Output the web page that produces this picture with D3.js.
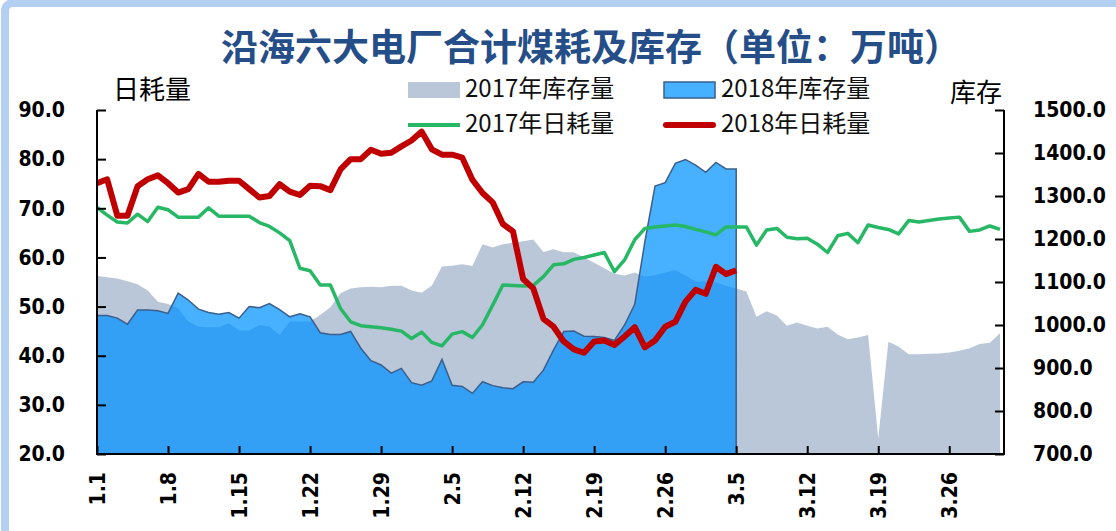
<!DOCTYPE html>
<html>
<head>
<meta charset="utf-8">
<script src="https://d3js.org/d3.v7.min.js"></script>
<style>
  body { margin: 0; background: #fff; }
  .tickLab { font-family: "DejaVu Sans Condensed", "DejaVu Sans", sans-serif; font-weight: bold; font-size: 21px; fill: #000; }
  .cjk { font-family: "Noto Sans CJK SC", sans-serif; }
</style>
</head>
<body>
<div id="chart"></div>
<script>
// categories (1.1 - 3.31)
var dates = ["1.1","1.2","1.3","1.4","1.5","1.6","1.7","1.8","1.9","1.10","1.11","1.12","1.13","1.14","1.15","1.16",
  "1.17","1.18","1.19","1.20","1.21","1.22","1.23","1.24","1.25","1.26","1.27","1.28","1.29","1.30","1.31",
  "2.1","2.2","2.3","2.4","2.5","2.6","2.7","2.8","2.9","2.10","2.11","2.12","2.13","2.14","2.15","2.16",
  "2.17","2.18","2.19","2.20","2.21","2.22","2.23","2.24","2.25","2.26","2.27","2.28",
  "3.1","3.2","3.3","3.4","3.5","3.6","3.7","3.8","3.9","3.10","3.11","3.12","3.13","3.14","3.15","3.16",
  "3.17","3.18","3.19","3.20","3.21","3.22","3.23","3.24","3.25","3.26","3.27","3.28","3.29","3.30","3.31"]
var tickLabels = ["1.1","1.8","1.15","1.22","1.29","2.5","2.12","2.19","2.26","3.5","3.12","3.19","3.26"]

// 2017 inventory (right axis)
var inv2017 = [1114,1111,1108,1102,1095,1080,1054,1049,1039,1008,996,995,995,1004,987,987,1000,996,977,1008,
  1008,1008,1023,1041,1074,1085,1088,1089,1088,1091,1091,1080,1075,1091,1136,1138,1141,1137,1188,1180,
  1188,1191,1195,1199,1170,1176,1169,1169,1157,1145,1132,1119,1115,1122,1112,1116,1122,1128,1115,1101,
  1101,1099,1091,1085,1078,1019,1032,1022,998,1006,998,992,996,978,967,971,977,736,961,950,
  932,932,933,934,936,940,946,956,959,981]
// 2018 inventory (right axis)
var inv2018 = [1022,1022,1016,1002,1035,1035,1033,1027,1074,1058,1037,1029,1025,1029,1016,1043,1040,1050,1036,1019,
  1026,1019,982,978,978,985,946,917,907,888,899,866,860,870,920,860,857,841,868,859,
  854,852,868,867,895,942,985,986,974,973,971,964,1000,1048,1194,1323,1331,1376,1385,1372,
  1355,1378,1363,1363]
// 2017 daily consumption (left axis)
var cons2017 = [70.2,68.6,67.2,67.0,68.8,67.3,70.2,69.7,68.2,68.2,68.2,70.1,68.4,68.4,68.4,68.4,67.1,66.3,65.0,63.4,
  57.8,57.3,54.4,54.4,49.6,46.9,46.1,45.9,45.7,45.4,45.0,43.5,44.8,42.7,42.0,44.4,44.9,43.7,46.3,50.3,
  54.4,54.3,54.2,54.3,56.1,58.5,58.7,59.6,60.0,60.5,61.0,57.1,59.5,63.6,65.9,66.2,66.4,66.6,66.3,65.7,
  65.2,64.6,66.2,66.2,66.2,62.5,65.6,65.9,64.1,63.8,63.9,62.7,61.0,64.4,64.9,63.0,66.6,66.1,65.7,64.8,
  67.5,67.2,67.5,67.8,68.0,68.2,65.3,65.6,66.4,65.7]
// 2018 daily consumption (left axis)
var cons2018 = [75.1,75.9,68.5,68.5,74.5,75.9,76.7,75.1,73.2,73.9,77.0,75.4,75.4,75.6,75.6,73.9,72.2,72.5,74.9,73.4,
  72.7,74.6,74.5,73.7,77.9,80.0,80.0,81.9,81.1,81.3,82.6,83.8,85.6,82.0,80.9,80.9,80.3,75.8,73.1,71.2,
  66.8,65.3,55.6,53.7,47.5,45.9,42.9,41.3,40.6,42.9,43.1,42.2,43.9,45.8,41.7,43.1,45.9,46.9,51.0,53.4,
  52.6,58.1,56.6,57.4]

var leftTicks = [20,30,40,50,60,70,80,90]
var rightTicks = [700,800,900,1000,1100,1200,1300,1400,1500]

var W = 1116, H = 531
var plot = {left: 97, right: 1004, top: 110, bottom: 454}

var svg = d3.select("#chart")
  .append("svg")
  .attr("width", W)
  .attr("height", H)

// outer frame
svg.append("rect")
  .attr("x", 5).attr("y", 3)
  .attr("width", W + 40).attr("height", H + 40)
  .attr("rx", 8)
  .style("fill", "none")
  .style("stroke", "#B3D0F3")
  .style("stroke-width", 8)

// scales
var x = d3.scalePoint()
  .domain(dates)
  .range([plot.left, 1000])
var yL = d3.scaleLinear().domain([20, 90]).range([plot.bottom, plot.top])
var yR = d3.scaleLinear().domain([700, 1500]).range([plot.bottom, plot.top])

// 2017 inventory area
svg.append("path")
  .datum(inv2017)
  .attr("d", d3.area()
    .x(function(d, i) { return x(dates[i]) })
    .y0(yR(700))
    .y1(function(d) { return yR(d) }))
  .style("fill", "#B9C7D9")

// 2018 inventory area (semi transparent, on top)
svg.append("path")
  .datum(inv2018)
  .attr("d", d3.area()
    .x(function(d, i) { return x(dates[i]) })
    .y0(yR(700))
    .y1(function(d) { return yR(d) }))
  .style("fill", "rgb(0,146,255)")
  .style("fill-opacity", 0.72)
  .style("stroke", "#3A5F8C")
  .style("stroke-width", 1.5)

// 2017 consumption line
svg.append("path")
  .datum(cons2017)
  .attr("d", d3.line()
    .x(function(d, i) { return x(dates[i]) })
    .y(function(d) { return yL(d) }))
  .style("fill", "none")
  .style("stroke", "#27B865")
  .style("stroke-width", 3.5)
  .style("stroke-linejoin", "round")

// 2018 consumption line
svg.append("path")
  .datum(cons2018)
  .attr("d", d3.line()
    .x(function(d, i) { return x(dates[i]) })
    .y(function(d) { return yL(d) }))
  .style("fill", "none")
  .style("stroke", "#C00000")
  .style("stroke-width", 6)
  .style("stroke-linejoin", "round")

// left axis
var gL = svg.append("g")
  .attr("transform", "translate(" + plot.left + ",0)")
  .call(d3.axisLeft(yL).tickValues(leftTicks).tickSize(-9).tickPadding(32).tickFormat(d3.format(".1f")))
gL.select(".domain").remove()
gL.selectAll(".tick line").style("stroke", "#000").style("stroke-width", 2)
gL.selectAll("text").attr("class", "tickLab")

// right axis
var gR = svg.append("g")
  .attr("transform", "translate(" + plot.right + ",0)")
  .call(d3.axisRight(yR).tickValues(rightTicks).tickSize(-9).tickPadding(29).tickFormat(d3.format(".1f")))
gR.select(".domain").remove()
gR.selectAll(".tick line").style("stroke", "#000").style("stroke-width", 2)
gR.selectAll("text").attr("class", "tickLab")

// bottom axis
var gB = svg.append("g")
  .attr("transform", "translate(0," + plot.bottom + ")")
  .call(d3.axisBottom(x).tickValues(tickLabels).tickSize(-8))
gB.select(".domain").remove()
gB.selectAll(".tick line").style("stroke", "#000").style("stroke-width", 2)
gB.selectAll("text")
  .attr("class", "tickLab")
  .attr("transform", "rotate(-90)")
  .attr("x", -18)
  .attr("y", 0)
  .attr("dy", "0.35em")
  .style("text-anchor", "end")

// axis lines
svg.append("path")
  .attr("d", "M" + plot.left + "," + plot.top + "V" + plot.bottom + "H" + plot.right + "V" + plot.top)
  .style("fill", "none")
  .style("stroke", "#000")
  .style("stroke-width", 2)

// title
svg.append("text")
  .attr("class", "cjk")
  .attr("x", 591).attr("y", 61)
  .style("text-anchor", "middle")
  .style("font-size", "37px")
  .style("font-weight", "bold")
  .style("fill", "#254E88")
  .text("沿海六大电厂合计煤耗及库存（单位：万吨）")

// axis titles
svg.append("text").attr("class", "cjk")
  .attr("x", 113).attr("y", 99)
  .style("font-size", "26px")
  .text("日耗量")
svg.append("text").attr("class", "cjk")
  .attr("x", 950).attr("y", 102)
  .style("font-size", "26px")
  .text("库存")

// legend
svg.append("rect").attr("x", 408).attr("y", 82).attr("width", 52).attr("height", 16)
  .style("fill", "#B9C7D9")
svg.append("rect").attr("x", 664).attr("y", 82).attr("width", 51).attr("height", 16)
  .style("fill", "#45B1FF").style("stroke", "#3A5F8C").style("stroke-width", 1.5)
svg.append("line").attr("x1", 408).attr("x2", 460).attr("y1", 125).attr("y2", 125)
  .style("stroke", "#27B865").style("stroke-width", 4)
svg.append("line").attr("x1", 666).attr("x2", 713).attr("y1", 125).attr("y2", 125)
  .style("stroke", "#C00000").style("stroke-width", 6).style("stroke-linecap", "round")

var legendText = [
  {x: 465, y: 97, t: "2017年库存量"},
  {x: 721, y: 97, t: "2018年库存量"},
  {x: 465, y: 132, t: "2017年日耗量"},
  {x: 721, y: 132, t: "2018年日耗量"}
]
svg.selectAll("text.legend")
  .data(legendText)
  .enter()
  .append("text")
  .attr("class", "legend cjk")
  .attr("x", function(d) { return d.x })
  .attr("y", function(d) { return d.y })
  .style("font-size", "24px")
  .style("fill", "#111")
  .text(function(d) { return d.t })
</script>
</body>
</html>
